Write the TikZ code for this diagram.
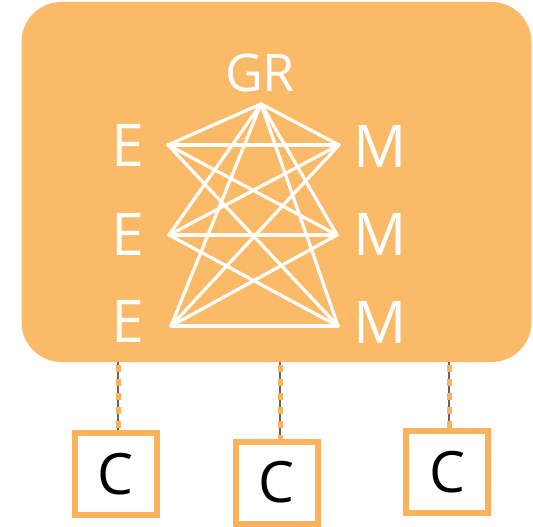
\documentclass[tikz,border=0pt]{standalone}
\usepackage{fontspec}
\setmainfont{Open Sans}
\definecolor{bgor}{RGB}{251,186,104}
\definecolor{boxor}{RGB}{252,178,92}
\definecolor{lnk}{RGB}{100,100,100}
\begin{document}
\begin{tikzpicture}[x=1pt,y=-1pt,
  lbl/.style={text=white,font=\fontsize{59}{59}\selectfont,inner sep=0pt},
  edge/.style={white,line width=3.2pt,line cap=round},
  cbox/.style={draw=boxor,line width=6pt,fill=white,minimum width=82pt,minimum height=82pt,inner sep=0pt,font=\fontsize{57}{57}\selectfont,text=black},
  conn/.style={lnk,line width=2pt},
  conndash/.style={boxor,line width=5pt,dash pattern=on 7pt off 7pt}]
\useasboundingbox (0,0) rectangle (533,527);
\fill[white] (0,0) rectangle (533,527);
\node[fill=bgor,rounded corners=40pt,minimum width=510pt,minimum height=360pt,inner sep=0pt] (bg) at (276.5,182) {};
% labels
\node[lbl,font=\fontsize{52}{52}\selectfont] (gr) at (260,73) {GR};
\node[lbl] (e1) at (127.5,145) {E};
\node[lbl] (e2) at (127.5,234) {E};
\node[lbl] (e3) at (127.5,321) {E};
\node[lbl] (m1) at (380,146) {M};
\node[lbl] (m2) at (380,234) {M};
\node[lbl] (m3) at (380,322) {M};
% graph vertices
\coordinate (g) at (261,104);
\coordinate (a1) at (168,145);
\coordinate (a2) at (169,235);
\coordinate (a3) at (171,326);
\coordinate (b1) at (339,145);
\coordinate (b2) at (337,235);
\coordinate (b3) at (338,326);
\foreach \p in {a1,a2,a3,b1,b2,b3} \draw[edge] (g) -- (\p);
\foreach \p in {a1,a2,a3} \foreach \q in {b1,b2,b3} \draw[edge] (\p) -- (\q);
% boxes
\node[cbox] (c1) at (115.5,474) {C};
\node[cbox] (c2) at (276.5,482.5) {C};
\node[cbox] (c3) at (447,472) {C};
\foreach \c/\s in {c1/2.5,c2/3.5,c3/2} {
  \draw[conn] ([xshift=\s pt]\c.north) -- ([xshift=\s pt]\c.north |- bg.south);
  \draw[conndash] ([xshift=\s pt,yshift=-3pt]\c.north |- bg.south) -- ([xshift=\s pt]\c.north);
}
\end{tikzpicture}
\end{document}
